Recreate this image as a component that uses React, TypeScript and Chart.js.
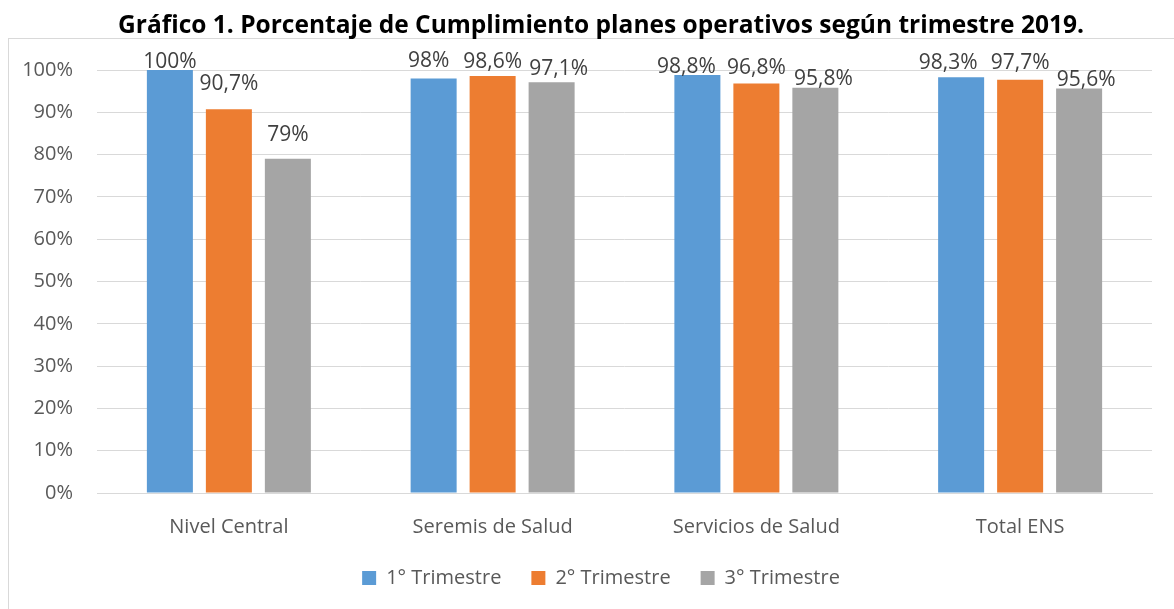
import React, { useEffect, useRef } from "react";
import { Chart, registerables } from "chart.js";

Chart.register(...registerables);

const categories = ["Nivel Central", "Seremis de Salud", "Servicios de Salud", "Total ENS"];
const seriesNames = ["1° Trimestre", "2° Trimestre", "3° Trimestre"];
const trimestre1 = [100, 98, 98.8, 98.3];
const trimestre2 = [90.7, 98.6, 96.8, 97.7];
const trimestre3 = [79, 97.1, 95.8, 95.6];
const yTicks = [0, 10, 20, 30, 40, 50, 60, 70, 80, 90, 100];
const titleText = "Gráfico 1. Porcentaje de Cumplimiento planes operativos según trimestre 2019.";

// label placement (pixel offsets dx, gap above bar top) per series, per category
const labelOffsets = [
  [[0, 2], [-5, 11], [-11, 2], [-13, 8]],
  [[0, 19], [0, 8], [0, 10], [0, 11]],
  [[0, 18], [7, 7], [8, 3], [7, 3]],
];

const colors = ["#5B9BD5", "#ED7D31", "#A5A5A5"];
const FONT = "'Open Sans'";

const fmt = (v: number) => String(v).replace(".", ",") + "%";

const frame = {
  id: "frame",
  beforeDraw(chart: any) {
    const ctx = chart.ctx;
    ctx.save();
    ctx.fillStyle = "#ffffff";
    ctx.fillRect(0, 0, chart.width, chart.height);
    ctx.strokeStyle = "#d9d9d9";
    ctx.lineWidth = 1;
    ctx.strokeRect(8.5, 38.5, chart.width + 20, chart.height + 20);
    ctx.restore();
  },
};

const valueLabels = {
  id: "valueLabels",
  afterDatasetsDraw(chart: any) {
    const ctx = chart.ctx;
    ctx.save();
    ctx.font = `21px ${FONT}`;
    ctx.fillStyle = "#404040";
    ctx.textAlign = "center";
    ctx.textBaseline = "alphabetic";
    chart.data.datasets.forEach((ds: any, di: number) => {
      const meta = chart.getDatasetMeta(di);
      meta.data.forEach((el: any, i: number) => {
        const [dx, gap] = labelOffsets[di][i];
        ctx.fillText(fmt(ds.data[i]), el.x + dx, el.y - gap);
      });
    });
    ctx.restore();
  },
};

export default function App() {
  const ref = useRef<HTMLCanvasElement>(null);
  useEffect(() => {
    if (!ref.current) return;
    const series = [trimestre1, trimestre2, trimestre3];
    const chart = new Chart(ref.current, {
      type: "bar",
      data: {
        labels: categories,
        datasets: series.map((d, i) => ({
          label: seriesNames[i],
          data: d,
          backgroundColor: colors[i],
          borderWidth: 0,
          barPercentage: 0.78,
          categoryPercentage: 0.671,
        })),
      },
      options: {
        responsive: false,
        animation: false,
        layout: { padding: { left: 0, right: -28, top: 0, bottom: 11 } },
        plugins: {
          title: {
            display: true,
            text: titleText,
            color: "#000000",
            font: { family: FONT, size: 24.5, weight: "bold" },
            padding: { top: 11, bottom: 29.6 },
          },
          legend: {
            position: "bottom",
            labels: {
              boxWidth: 14,
              boxHeight: 14,
              padding: 30,
              color: "#595959",
              font: { family: FONT, size: 20 },
            },
          },
          tooltip: { enabled: false },
        },
        scales: {
          x: {
            grid: { display: false },
            border: { display: true, color: "#d9d9d9" },
            ticks: { color: "#595959", font: { family: FONT, size: 20 }, padding: 14 },
            afterFit: (s: any) => { s.height = 45; },
          },
          y: {
            min: 0,
            max: 100,
            afterBuildTicks: (s: any) => { s.ticks = yTicks.map((v) => ({ value: v })); },
            grid: { color: "#d9d9d9", drawTicks: false },
            border: { display: false },
            ticks: {
              color: "#595959",
              font: { family: FONT, size: 20 },
              padding: 24,
              callback: (v: any) => v + "%",
            },
            afterFit: (s: any) => { s.width = 97; },
          },
          spacer: {
            type: "linear",
            position: "right",
            display: true,
            grid: { display: false, drawTicks: false },
            border: { display: false },
            ticks: { display: false },
            afterFit: (s: any) => { s.width = 50; },
          },
        },
      },
      plugins: [frame, valueLabels],
    });
    return () => chart.destroy();
  }, []);
  return (
    <div style={{ position: "absolute", left: 0, top: 0, width: 1174, height: 609 }}>
      <canvas ref={ref} width={1174} height={609} style={{ display: "block" }} />
    </div>
  );
}
